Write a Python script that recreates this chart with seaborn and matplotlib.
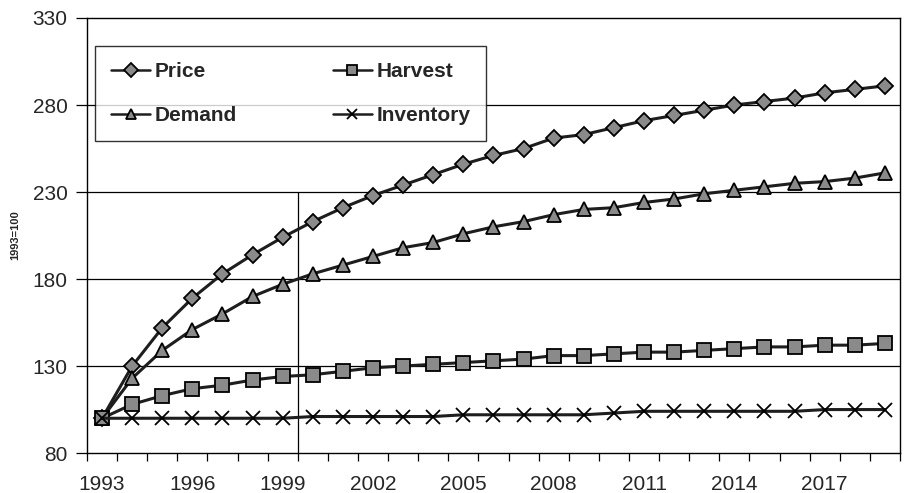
import numpy as np
import pandas as pd
import matplotlib
matplotlib.use("Agg")
import matplotlib.pyplot as plt
import seaborn as sns

sns.set_style("white")
plt.rcParams["font.family"] = ["Liberation Sans", "DejaVu Sans"]

# data (index, 1993 = 100)
years = list(range(1993, 2020))
price = [100, 130, 152, 169, 183, 194, 204, 213, 221, 228, 234, 240, 246,
         251, 255, 261, 263, 267, 271, 274, 277, 280, 282, 284, 287, 289, 291]
demand = [100, 123, 139, 151, 160, 170, 177, 183, 188, 193, 198, 201, 206,
          210, 213, 217, 220, 221, 224, 226, 229, 231, 233, 235, 236, 238, 241]
harvest = [100, 108, 113, 117, 119, 122, 124, 125, 127, 129, 130, 131, 132,
           133, 134, 136, 136, 137, 138, 138, 139, 140, 141, 141, 142, 142, 143]
inventory = [100, 100, 100, 100, 100, 100, 100, 101, 101, 101, 101, 101, 102,
             102, 102, 102, 102, 103, 104, 104, 104, 104, 104, 104, 105, 105, 105]

# legend fills column by column: Price/Demand left, Harvest/Inventory right
series = {"Price": price, "Demand": demand, "Harvest": harvest, "Inventory": inventory}
markers = {"Price": "D", "Harvest": "s", "Demand": "^", "Inventory": "x"}
msizes = {"Price": 8.5, "Harvest": 10, "Demand": 9.5, "Inventory": 10}

y_ticks = [80, 130, 180, 230, 280, 330]
label_every = 3
split_pos = 6.5      # separator between 1999 and 2000
split_top = 230

fig = plt.figure(figsize=(9.1, 4.93), dpi=100)
ax = fig.add_axes([0.0956, 0.081, 0.8934, 0.8825])

# horizontal grid + separator line
for yv in y_ticks[1:-1]:
    ax.axhline(yv, color="black", lw=0.9, zorder=0)
ax.vlines(split_pos, y_ticks[0], split_top, color="black", lw=0.9, zorder=0)

pos = np.arange(len(years))
for name, vals in series.items():
    sns.lineplot(x=pos, y=vals, ax=ax, color="#1e1e1e", lw=2.2,
                 marker=markers[name], markersize=msizes[name],
                 markerfacecolor="#8a8a8a", markeredgecolor="black",
                 markeredgewidth=1.3, label=name)

ax.set_xlim(-0.5, len(years) - 0.5)
ax.set_ylim(y_ticks[0], y_ticks[-1])
ax.set_yticks(y_ticks)
ax.set_xticks(pos[::label_every])
ax.set_xticklabels([str(y) for y in years[::label_every]])
ax.set_xticks(np.arange(-0.5, len(years) + 0.5, 1), minor=True)
ax.tick_params(axis="x", which="major", length=0, pad=16, labelsize=15)
ax.tick_params(axis="x", which="minor", length=6, width=0.9, direction="out",
               color="black", bottom=True)
ax.tick_params(axis="y", length=8, width=0.9, direction="out", color="black",
               left=True, pad=6, labelsize=15)

for sp in ax.spines.values():
    sp.set_color("black")
    sp.set_linewidth(1.0)

ax.set_ylabel("1993=100", fontsize=8, fontweight="bold", labelpad=9)
ax.set_xlabel("")

leg = ax.legend(loc="upper left", bbox_to_anchor=(0.01, 0.935), ncol=2,
                frameon=True, fancybox=False, edgecolor="black",
                prop={"size": 15, "weight": "bold"}, handlelength=1.9,
                handletextpad=0.2, columnspacing=4.6, labelspacing=1.2,
                borderpad=0.75, borderaxespad=0)
leg.get_frame().set_linewidth(1.0)
for h in leg.legend_handles:
    h.set_markersize(7)
    h.set_linewidth(1.8)

fig.savefig("out.png", dpi=100)
